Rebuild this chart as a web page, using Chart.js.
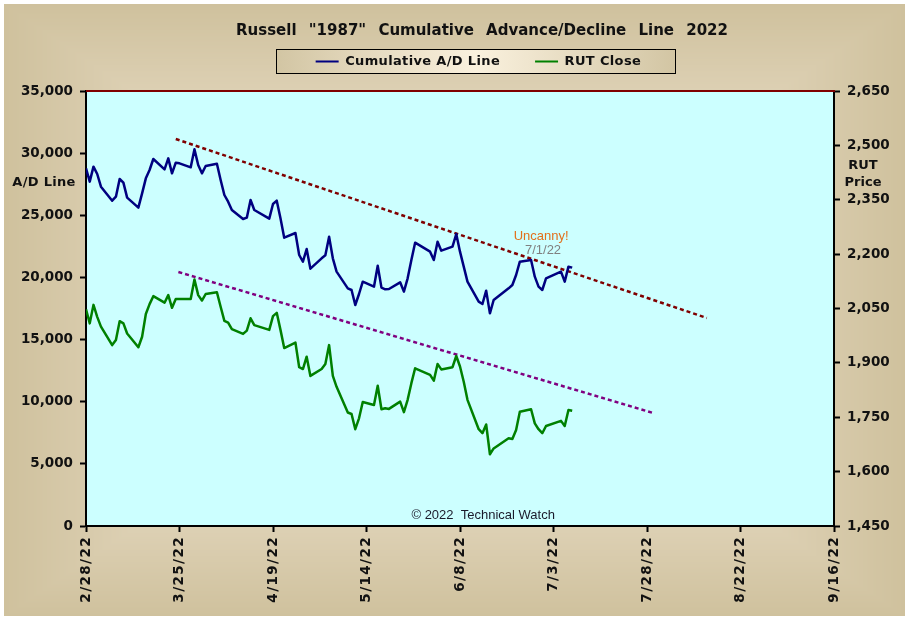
<!DOCTYPE html>
<html>
<head>
<meta charset="utf-8">
<style>
html,body{margin:0;padding:0;background:#fff}
#wrap{position:relative;width:910px;height:621px}
</style>
<script src="https://cdn.jsdelivr.net/npm/chart.js@4"></script>
</head>
<body>
<div id="wrap"><canvas id="c" width="910" height="621"></canvas></div>
<script>
const titleText = 'Russell "1987" Cumulative Advance/Decline Line 2022';
const dateLabels = ['2/28/22','3/25/22','4/19/22','5/14/22','6/8/22','7/3/22','7/28/22','8/22/22','9/16/22'];
// trading days, counted in calendar days from 2/28/22
const tradingDays = [0,1,2,3,4,7,8,9,10,11,14,15,16,17,18,21,22,23,24,25,28,29,30,31,32,35,36,37,38,39,42,43,44,45,49,50,51,52,53,56,57,58,59,60,63,64,65,66,67,70,71,72,73,74,77,78,79,80,81,84,85,86,87,88,92,93,94,95,98,99,100,101,102,105,106,107,108,109,113,114,115,116,119,120,121,122,123,127,128,129,130];
const adLine = [28778,27705,28912,28322,27303,26176,26498,27919,27624,26417,25613,26766,27973,28644,29529,28697,29582,28375,29234,29180,28858,30306,29046,28375,28965,29153,27839,26632,26096,25425,24701,24808,26230,25425,24728,25908,26176,24755,23199,23575,21805,21268,22287,20705,21537,21778,23280,21537,20463,19123,18989,17782,18667,19659,19257,20947,19177,19042,19069,19606,18855,19927,21403,22797,22073,21403,22878,22154,22475,23495,22073,20866,19659,18050,17862,18935,17111,18184,19123,19391,20196,21268,21403,20062,19257,18989,19927,20464,19659,20866,20786];
const rutClose = [2048,2009,2060,2027,2000,1949,1963,2015,2009,1981,1943,1972,2035,2062,2084,2066,2087,2052,2076,2076,2076,2130,2087,2072,2090,2095,2055,2016,2011,1993,1980,1989,2023,2004,1991,2029,2038,1991,1941,1956,1888,1883,1917,1864,1883,1897,1949,1864,1834,1763,1759,1717,1747,1792,1784,1837,1772,1775,1773,1793,1764,1798,1844,1885,1867,1851,1897,1882,1888,1919,1890,1848,1798,1717,1706,1730,1648,1664,1692,1690,1715,1765,1772,1733,1717,1706,1726,1740,1726,1770,1768];
const upperTrendDays = [24,166];
const upperTrendValues = [31138,16736];
const lowerTrendDays = [24.7,151.7];
const lowerTrendValues = [20437,9092];
const seriesNames = ['Cumulative A/D Line','RUT Close','A/D trend','RUT trend'];

const pairs = (xs, ys) => xs.map((x, i) => ({x, y: ys[i]}));
const FONT = '"DejaVu Sans"';

let frameImage = null;
function buildFrame(ctx, x0, y0, x1, y1, edge, mid) {
  const w = x1 - x0, h = y1 - y0, im = ctx.createImageData(w, h);
  const cx = w / 2, cy = h / 2;
  for (let j = 0; j < h; j++) for (let i = 0; i < w; i++) {
    const t = 1 - Math.max(Math.abs(i - cx) / cx, Math.abs(j - cy) / cy);
    const k = (i + j * w) * 4;
    for (let n = 0; n < 3; n++) im.data[k + n] = edge[n] + (mid[n] - edge[n]) * t;
    im.data[k + 3] = 255;
  }
  return im;
}

const frame = {
  id: 'frame',
  afterInit(chart) {
    const t = chart.titleBlock, l = chart.legend;
    const tu = t.update; t.update = function(a, b, c){ tu.call(this, a, b, c); this.height = 91; };
    const lf = l.fit; l.fit = function(){ lf.call(this); this.height = 0; };
    const td = t.draw; t.draw = function(){ const c = this.ctx; c.save(); c.wordSpacing = '7px'; td.call(this); c.restore(); };
    const ld = l.draw; l.draw = function(){ const c = this.ctx; c.save(); c.letterSpacing = '0.35px'; ld.call(this); c.restore(); };
  },
  afterLayout(chart) {
    const t = chart.titleBlock, l = chart.legend;
    t.left += 27; t.right += 27; t.top = 22; t.bottom = 40;
    l.left += 18.5; l.right += 18.5; l.top = 20; l.bottom = 84;
  },
  beforeDraw(chart) {
    const c = chart.ctx, a = chart.chartArea, sx = chart.scales.x;
    if (!sx._spaced) {
      sx._spaced = true;
      const dl = sx.drawLabels;
      sx.drawLabels = function(area){ const q = this.ctx; q.save(); q.letterSpacing = '1.4px'; dl.call(this, area); q.restore(); };
    }
    if (!frameImage) frameImage = buildFrame(c, 4, 4, 905, 616, [0xCF,0xC1,0x9D], [0xFF,0xF6,0xEC]);
    c.save();
    c.fillStyle = '#ffffff'; c.fillRect(0, 0, chart.width, chart.height);
    c.putImageData(frameImage, 4, 4);
    const g = c.createLinearGradient(276, 0, 676, 0);
    g.addColorStop(0, '#D2C5A3'); g.addColorStop(0.5, '#FAF1DE'); g.addColorStop(1, '#D2C5A3');
    c.fillStyle = g; c.fillRect(276.5, 49.5, 399, 24);
    c.strokeStyle = '#000'; c.lineWidth = 1; c.strokeRect(276.5, 49.5, 399, 24);
    c.fillStyle = '#CCFFFF'; c.fillRect(a.left, a.top, a.right - a.left, a.bottom - a.top);
    c.restore();
  },
  afterDraw(chart) {
    const c = chart.ctx, a = chart.chartArea, x = chart.scales.x, y = chart.scales.y;
    c.save();
    c.strokeStyle = '#800000'; c.lineWidth = 2;
    c.beginPath(); c.moveTo(a.left, a.top); c.lineTo(a.right + 1, a.top); c.stroke();
    c.textBaseline = 'middle'; c.textAlign = 'center';
    c.font = '13px "Liberation Sans"';
    c.fillStyle = '#E2701C'; c.fillText('Uncanny!', x.getPixelForValue(121.7), y.getPixelForValue(23330));
    c.fillStyle = '#808080'; c.fillText('7/1/22', x.getPixelForValue(122.2), y.getPixelForValue(22200));
    c.fillStyle = '#1a1a2a'; c.fillText('© 2022  Technical Watch', x.getPixelForValue(106.2), y.getPixelForValue(885));
    c.fillStyle = '#111';
    c.font = 'bold 13px ' + FONT;
    c.fillText('RUT', 863, 165.5);
    c.fillText('Price', 863, 182.5);
    c.letterSpacing = '0.3px';
    c.fillText('A/D Line', 44, 183);
    c.restore();
  }
};

function tickFont(size){ return {family: FONT, weight: 'bold', size}; }

new Chart(document.getElementById('c'), {
  type: 'line',
  plugins: [frame],
  data: {
    datasets: [
      {label: seriesNames[0], data: pairs(tradingDays, adLine), yAxisID: 'y', borderColor: '#000080', backgroundColor: '#000080'},
      {label: seriesNames[1], data: pairs(tradingDays, rutClose), yAxisID: 'y1', borderColor: '#008000', backgroundColor: '#008000'},
      {label: seriesNames[2], data: pairs(upperTrendDays, upperTrendValues), yAxisID: 'y', borderColor: '#800000', borderDash: [4,3]},
      {label: seriesNames[3], data: pairs(lowerTrendDays, lowerTrendValues), yAxisID: 'y', borderColor: '#800080', borderDash: [4,3]}
    ]
  },
  options: {
    responsive: false,
    animation: false,
    devicePixelRatio: 1,
    parsing: false,
    normalized: true,
    layout: {padding: 0},
    elements: {point: {radius: 0}, line: {borderWidth: 2.5, tension: 0, fill: false, borderJoinStyle: 'round'}},
    plugins: {
      tooltip: {enabled: false},
      title: {display: true, text: titleText, color: '#111', font: {family: FONT, weight: 'bold', size: 15}, padding: 0},
      legend: {
        display: true,
        labels: {
          color: '#111', font: {family: FONT, weight: 'bold', size: 13},
          boxWidth: 23, boxHeight: 2, padding: 35,
          generateLabels: (chart) => chart.data.datasets.slice(0, 2).map((d, i) => ({
            text: d.label, fillStyle: d.borderColor, strokeStyle: d.borderColor, lineWidth: 0, datasetIndex: i, hidden: false, fontColor: '#111'
          }))
        }
      }
    },
    scales: {
      x: {
        type: 'linear', position: 'bottom', min: 0, max: 200,
        afterFit: s => { s.height = 95; },
        border: {display: true, color: '#000', width: 2},
        grid: {drawOnChartArea: false, drawTicks: true, tickLength: 6, tickColor: '#000', tickWidth: 2},
        ticks: {stepSize: 25, minRotation: 90, maxRotation: 90, autoSkip: false, padding: 4, color: '#111', font: tickFont(13.5), callback: (v, i) => dateLabels[i]}
      },
      y: {
        position: 'left', min: 0, max: 35000,
        afterFit: s => { s.width = 86; },
        border: {display: true, color: '#000', width: 2},
        grid: {drawOnChartArea: false, tickLength: 6, tickColor: '#000', tickWidth: 2},
        ticks: {stepSize: 5000, padding: 7, color: '#111', font: tickFont(13.5), callback: v => v.toLocaleString('en-US')}
      },
      y1: {
        position: 'right', min: 1450, max: 2650,
        afterFit: s => { s.width = 76; },
        border: {display: true, color: '#000', width: 2},
        grid: {drawOnChartArea: false, tickLength: 6, tickColor: '#000', tickWidth: 2},
        ticks: {stepSize: 150, padding: 7, color: '#111', font: tickFont(13.5), callback: v => v.toLocaleString('en-US')}
      }
    }
  }
});
</script>
</body>
</html>
